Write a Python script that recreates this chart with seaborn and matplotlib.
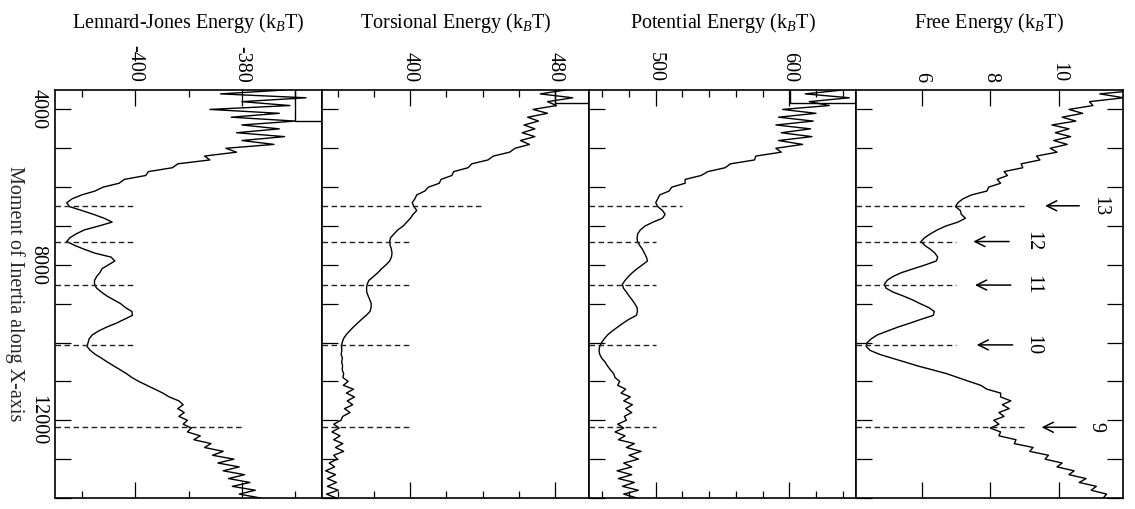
import numpy as np
import pandas as pd
import matplotlib
matplotlib.use('Agg')
import matplotlib.pyplot as plt
import seaborn as sns
from matplotlib.patches import Rectangle
from matplotlib.ticker import MultipleLocator, FuncFormatter

# sample positions along the moment of inertia axis (every 100 units)
moment = np.arange(3500, 14001, 100)

# values, 10 per row
lj_energy = [
    -372, -384, -368, -380, -371, -386, -373, -382, -370, -380,
    -373, -381, -372, -380, -374, -383, -381, -387, -386, -392,
    -393, -397.5, -398, -402, -403, -406, -407.5, -410, -411.8, -412.8,
    -412.3, -410, -407.8, -405.8, -404.3, -406.8, -409.5, -411, -412.2, -412.8,
    -411.3, -409.5, -407.5, -404.5, -403.8, -405, -406.2, -406.6, -407.2, -407.6,
    -407.6, -407.2, -406.3, -405.3, -404, -402.7, -401.8, -400.6, -400.5, -402,
    -403.5, -405.3, -406.8, -408, -408.6, -408.8, -409, -408.4, -407.5, -406.3,
    -405.2, -404, -402.8, -401.6, -400.6, -399.3, -397.8, -396.3, -394.8, -393.6,
    -391.8, -391, -392, -390.8, -391.8, -390.2, -391, -389.5, -390.2, -387.8,
    -389, -385.8, -387, -383.5, -385.5, -381.5, -384.5, -380.5, -383.5, -379.5,
    -382.5, -378.5, -381.8, -377.5, -380.5, -376.5,
]
torsional_energy = [
    486, 472, 490, 476, 481, 468, 476, 465, 471, 463,
    469, 462, 469, 461, 466, 458, 455, 446, 443, 434,
    432, 424, 423, 417, 416, 410, 408, 403.5, 402.5, 401,
    402, 403.5, 401.5, 400, 398, 396, 393, 391, 389, 388.5,
    388.8, 389.5, 389.8, 389.5, 388.5, 386.5, 384, 382, 379.5, 377,
    376, 375.7, 375.8, 376.6, 377.5, 378.3, 378.2, 377.6, 375.5, 373,
    370.7, 368.4, 366.3, 364.4, 362.9, 362.2, 361.8, 362, 361.6, 362.3,
    361.9, 362.4, 362.2, 363, 362.6, 365.5, 362.8, 368.5, 364.5, 369,
    365, 368, 363.5, 366.5, 362.5, 361.5, 357.5, 360.5, 356.5, 361,
    357.5, 362.5, 358.5, 363, 357.5, 359.5, 355, 358, 353, 358.5,
    354, 359, 354, 360, 353.5, 359,
]
potential_energy = [
    640, 612, 645, 615, 630, 595, 620, 592, 618, 590,
    616, 594, 617, 592, 610, 590, 594, 575, 574, 556,
    552, 539, 534, 522, 522, 512, 510, 503, 501.5, 500,
    501.5, 505, 507, 505, 498, 492, 488.5, 486.5, 486, 486.3,
    488, 490, 491.5, 493, 493.8, 490, 486, 482.5, 479.5, 477,
    475, 475.8, 478, 480, 482.3, 484.3, 486, 486.3, 485.5, 480,
    475.5, 471.5, 467.5, 464, 461.5, 459.5, 458, 457.5, 458, 459.5,
    462, 463.8, 466, 468.5, 469.5, 473, 471.5, 477.5, 474, 481,
    476, 482.5, 477.5, 482, 476.5, 478, 471.5, 476, 469.5, 477,
    472, 484, 478, 489, 480, 487, 476, 482, 471, 482,
    472, 484, 475, 487, 476, 486,
]
free_energy = [
    12.4, 11.2, 11.9, 10.9, 11.0, 10.3, 10.7, 10.1, 10.5, 9.8,
    10.3, 9.9, 10.35, 9.85, 10.25, 9.75, 9.95, 9.35, 9.45, 8.9,
    8.95, 8.4, 8.5, 8.2, 8.3, 7.95, 7.9, 7.45, 7.2, 7.05,
    6.98, 7.12, 7.15, 7.27, 7.05, 6.7, 6.45, 6.25, 6.08, 5.97,
    6.08, 6.25, 6.38, 6.46, 6.42, 6.1, 5.75, 5.4, 5.15, 4.98,
    4.9, 4.95, 5.15, 5.45, 5.72, 5.95, 6.2, 6.36, 6.33, 5.98,
    5.65, 5.3, 5.0, 4.7, 4.52, 4.4, 4.37, 4.48, 4.75, 5.12,
    5.5, 5.87, 6.3, 6.72, 7.05, 7.38, 7.72, 7.9, 8.3, 8.3,
    8.6, 8.35, 8.55, 8.25, 8.4, 8.1, 8.25, 8.0, 8.3, 8.25,
    8.75, 8.7, 9.25, 9.15, 9.7, 9.6, 10.1, 9.95, 10.45, 10.3,
    10.8, 10.6, 11.1, 10.95, 11.4, 11.3,
]

# marked minima (dashed lines) and where each dashed line stops
minima = [6480, 7400, 8520, 10060, 12180]
minima_labels = ['13', '12', '11', '10', '9']
lj_ends = [-400, -400, -400, -400, -380]
torsional_ends = [440, 400, 400, 400, 400]
potential_ends = [520, 500, 500, 500, 500]
free_ends = [9, 7, 7, 7, 9]

# arrows in the free energy panel
arrow_tail = [10.6, 8.55, 8.6, 8.65, 10.5]
arrow_head = [9.6, 7.5, 7.55, 7.6, 9.5]
label_pos = [11.2, 9.25, 9.25, 9.25, 11.1]

sns.set_style('ticks', {'axes.edgecolor': 'black', 'xtick.color': 'black',
                        'ytick.color': 'black', 'text.color': 'black'})
plt.rcParams['font.family'] = ['Liberation Serif', 'DejaVu Serif']
plt.rcParams['mathtext.fontset'] = 'custom'
plt.rcParams['mathtext.rm'] = 'Liberation Serif'
plt.rcParams['mathtext.it'] = 'Liberation Serif:italic'
plt.rcParams['axes.unicode_minus'] = False
plt.rcParams['font.size'] = 14.5

fig, axes = plt.subplots(1, 4, figsize=(11.35, 5.09), dpi=100, sharey=True)
fig.subplots_adjust(left=55/1135, right=1123/1135, top=1-90/509, bottom=1-498/509, wspace=0)

panels = [
    ('Lennard-Jones Energy (k$_B$T)', lj_energy, (-415, -365), 20, 10, lj_ends, (-370, 4300)),
    ('Torsional Energy (k$_B$T)', torsional_energy, (351, 499), 80, 20, torsional_ends, (480, 3846)),
    ('Potential Energy (k$_B$T)', potential_energy, (450, 650), 100, 20, potential_ends, (600.5, 3846)),
    ('Free Energy (k$_B$T)', free_energy, (4.07, 11.88), 2, None, free_ends, None),
]

for ax, (title, energy, xlim, major, minor, ends, box) in zip(axes, panels):
    df = pd.DataFrame({'energy': energy, 'moment': moment})
    sns.lineplot(data=df, x='energy', y='moment', orient='y', estimator=None,
                 sort=True, color='black', linewidth=1.0, ax=ax)
    ax.hlines(minima, xlim[0], ends, colors='#222222', linewidth=1.0,
              linestyles=(0, (4, 2.5)))
    if box is not None:
        ax.add_patch(Rectangle((box[0], 3000), 200, box[1] - 3000, fill=False,
                               edgecolor='black', linewidth=1.0))
    ax.set_xlim(*xlim)
    ax.set_xlabel('')
    ax.set_ylabel('')
    ax.xaxis.set_major_locator(MultipleLocator(major))
    if minor:
        ax.xaxis.set_minor_locator(MultipleLocator(minor))
    ax.tick_params(axis='x', which='both', direction='in', top=True, bottom=True,
                   labeltop=True, labelbottom=False, labelrotation=270, width=0.9)
    ax.tick_params(axis='x', which='major', length=11.5, pad=5.5)
    ax.tick_params(axis='x', which='minor', length=5)
    ax.tick_params(axis='y', direction='in', left=True, right=False, length=11.5,
                   width=0.9, labelleft=False)
    for s in ax.spines.values():
        s.set_linewidth(1.2)
    ax.text(0.5, 1 + 62/408, title, transform=ax.transAxes, ha='center', va='baseline')

axes[0].set_ylim(14000, 3500)
axes[0].yaxis.set_major_locator(MultipleLocator(1000))
axes[0].yaxis.set_major_formatter(FuncFormatter(lambda v, p: f'{int(v)}' if v % 4000 == 0 else ''))
axes[0].tick_params(axis='y', labelleft=True, labelrotation=270, pad=5.5)
for t in axes[0].get_yticklabels():
    t.set_verticalalignment('center')
axes[0].set_ylabel('Moment of Inertia along X-axis', rotation=270, va='center', ha='center')
axes[0].yaxis.set_label_coords(-40/267, 0.5)
axes[3].tick_params(axis='y', right=True)

for m, lab, t, h, lp in zip(minima, minima_labels, arrow_tail, arrow_head, label_pos):
    axes[3].annotate('', xy=(h, m), xytext=(t, m),
                     arrowprops=dict(arrowstyle='->', lw=1.1, color='black',
                                     mutation_scale=18, shrinkA=0, shrinkB=0))
    axes[3].text(lp, m, lab, rotation=270, ha='center', va='center')

fig.savefig('out.png', dpi=100)
